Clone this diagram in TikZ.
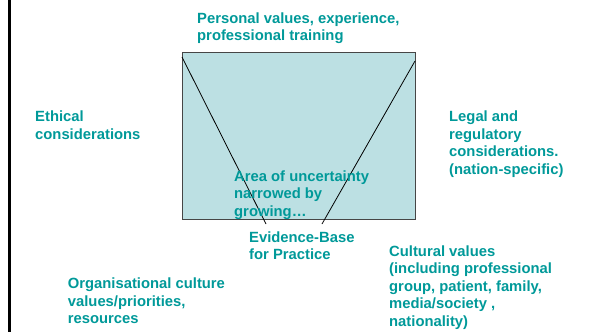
\documentclass[tikz,border=0pt]{standalone}
\usepackage{fontspec}
\setmainfont{Liberation Sans}
\definecolor{labelteal}{RGB}{0,153,153}
\definecolor{areafill}{RGB}{188,224,227}
\definecolor{areaedge}{RGB}{70,70,70}
\begin{document}
\begin{tikzpicture}[x=1pt,y=-1pt,
  lbl/.style={anchor=north west,inner sep=0pt,align=left,text=labelteal,
    font=\fontsize{14.8}{17.5}\selectfont\bfseries},
  funnel/.style={draw=black,line width=0.8pt}]
\useasboundingbox (0,0) rectangle (590,332);
% frame edge on the left
\draw[line width=2.5pt] (9.5,0) -- (9.5,332);
% area of uncertainty
\node[draw=areaedge,fill=areafill,line width=1pt,inner sep=0pt,
      minimum width=233pt,minimum height=167pt,anchor=north west] (box) at (182,52) {};
% funnel lines narrowing towards the evidence base
\coordinate (tl) at (182,57);
\coordinate (tr) at (415,61);
\coordinate (bl) at (266,224);
\coordinate (br) at (322,224);
\draw[funnel] (tl) -- (bl);
\draw[funnel] (tr) -- (br);
% labels
\node[lbl] (personal) at (197,12.3) {Personal values, experience,\\professional training};
\node[lbl] (ethical) at (35,110.7) {Ethical\\considerations};
\node[lbl] (legal) at (449,110.7) {Legal and\\regulatory\\considerations.\\(nation-specific)};
\node[lbl] (area) at (234,170.4) {Area of uncertainty\\narrowed by\\growing…};
\node[lbl] (evidence) at (249,231.4) {Evidence-Base\\for Practice};
\node[lbl] (cultural) at (389,245.4) {Cultural values\\(including professional\\group, patient, family,\\media/society ,\\nationality)};
\node[lbl] (organisational) at (67.7,278) {Organisational culture\\values/priorities,\\resources};
\end{tikzpicture}
\end{document}
